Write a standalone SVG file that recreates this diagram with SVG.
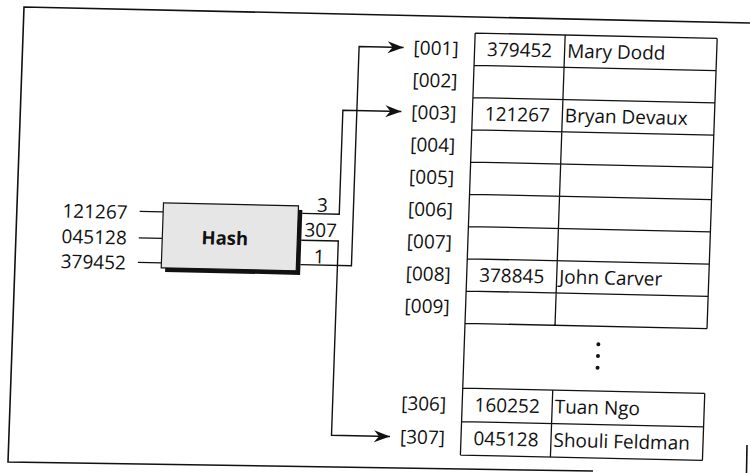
<svg xmlns="http://www.w3.org/2000/svg" width="750" height="473" viewBox="0 0 750 473">
<style>
.t{font-family:"Open Sans","Liberation Sans",sans-serif;font-size:19px;font-weight:500;font-stretch:92%;fill:#111}
.e{text-anchor:end}
.m{text-anchor:middle}
.b{font-weight:700;font-size:18.5px}
.ln{stroke:#111;stroke-width:1.3;fill:none}
.conn{stroke:#111;stroke-width:1.4;fill:none;marker-end:url(#arr)}
</style>
<defs>
<marker id="arr" markerUnits="userSpaceOnUse" viewBox="-17 -7 18 14" refX="0" refY="0" markerWidth="18" markerHeight="14" orient="auto">
<path d="M0,0 L-16,-6 L-11,0 L-16,6 Z" fill="#111"/>
</marker>
</defs>
<rect width="750" height="473" fill="#fff"/>
<g id="frame">
<polyline points="750,23 24,7 8,462 593,471" fill="none" stroke="#111" stroke-width="1.6"/>
<line x1="747" y1="445" x2="746.5" y2="473" stroke="#111" stroke-width="1.6"/>
</g>
<g transform="matrix(1 0.022 -0.035 1 8.26 -8.25)">
<g id="inputs">
<text class="t e" x="127" y="224.5">121267</text>
<text class="t e" x="127" y="250">045128</text>
<text class="t e" x="127" y="275">379452</text>
<path class="ln" d="M139,216.5 H162.5 M139,243 H162.5 M139,267.5 H162.5" stroke-width="1.6"/>
</g>
<g id="hash">
<rect x="166.5" y="211.5" width="135" height="65" fill="#111"/>
<rect x="162.5" y="207.5" width="135" height="65" fill="#e6e6e6" stroke="#111" stroke-width="1.2"/>
<text class="t m b" x="225" y="248">Hash</text>
</g>
<g id="connectors">
<path class="conn" d="M301.5,215 H338.5 V111 H397"/>
<path class="conn" d="M301.5,241.8 H338.5 V436 H397"/>
<path class="conn" d="M301.5,266.2 H352.5 V47 H397"/>
<text class="t m" x="321.5" y="213">3</text>
<text class="t m" x="320.5" y="238">307</text>
<text class="t m" x="320" y="264.5">1</text>
</g>
<g id="table">
<path class="ln" d="M468,31 V453 M710,31 V321.25 M710,386 V453 M558,31 V321.25 M558,386 V453
M468,31 H710 M468,63.25 H710 M468,95.5 H710 M468,127.75 H710 M468,160 H710 M468,192.25 H710 M468,224.5 H710 M468,256.75 H710 M468,289 H710 M468,321.25 H710
M468,386 H710 M468,419.5 H710 M468,453 H710"/>
<text class="t e" x="452" y="53.6">[001]</text>
<text class="t e" x="452" y="85.9">[002]</text>
<text class="t e" x="452" y="118.1">[003]</text>
<text class="t e" x="452" y="150.4">[004]</text>
<text class="t e" x="452" y="182.6">[005]</text>
<text class="t e" x="452" y="214.9">[006]</text>
<text class="t e" x="452" y="247.1">[007]</text>
<text class="t e" x="452" y="279.4">[008]</text>
<text class="t e" x="452" y="311.6">[009]</text>
<text class="t e" x="452" y="409.25">[306]</text>
<text class="t e" x="452" y="442.75">[307]</text>
<text class="t m" x="513" y="53.6">379452</text>
<text class="t" x="560.5" y="53.6">Mary Dodd</text>
<text class="t m" x="513" y="118.1">121267</text>
<text class="t" x="560.5" y="118.1">Bryan Devaux</text>
<text class="t m" x="513" y="279.4">378845</text>
<text class="t" x="560.5" y="279.4">John Carver</text>
<text class="t m" x="513" y="409.25">160252</text>
<text class="t" x="560.5" y="409.25">Tuan Ngo</text>
<text class="t m" x="513" y="442.75">045128</text>
<text class="t" x="560.5" y="442.75">Shouli Feldman</text>
<circle cx="602" cy="339.3" r="2" fill="#111"/>
<circle cx="602" cy="351" r="2" fill="#111"/>
<circle cx="602" cy="362.7" r="2" fill="#111"/>
</g>
</g>
</svg>
